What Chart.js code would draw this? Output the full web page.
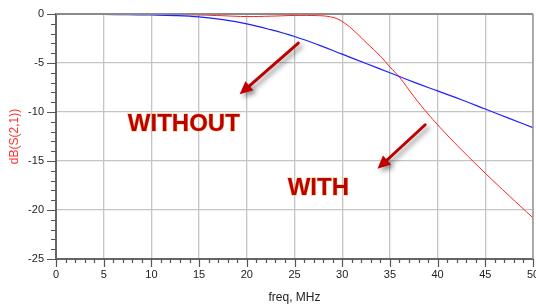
<!DOCTYPE html>
<html>
<head>
<meta charset="utf-8">
<script src="https://cdn.jsdelivr.net/npm/chart.js@4.4.1/dist/chart.umd.min.js"></script>
<style>
  html, body { margin: 0; padding: 0; background: #fff; }
  #wrap { width: 536px; height: 307px; position: relative; }
</style>
</head>
<body>
<div id="wrap"><canvas id="s21Chart"></canvas></div>
<script>
// S21 data (freq in MHz, dB)
const freqWithout = [0, 2.5, 5, 7.5, 10, 12.5, 15, 17.5, 20, 22.5, 25, 27.5, 30, 32.5, 35, 37.5, 40, 42.5, 45, 47.5, 50];
const dbWithout   = [-0.05, -0.05, -0.05, -0.07, -0.1, -0.16, -0.3, -0.58, -1.0, -1.6, -2.3, -3.15, -4.1, -5.05, -6.0, -6.95, -7.85, -8.75, -9.7, -10.65, -11.6];

const freqWith = [0, 5, 10, 15, 17.5, 20, 22.5, 25, 27.5, 28.5, 29.5, 30.5, 31.5, 32.5, 34, 35, 36, 37.5, 39, 40, 41, 42.5, 45, 47.5, 50];
const dbWith   = [-0.05, -0.05, -0.05, -0.1, -0.18, -0.26, -0.22, -0.15, -0.17, -0.25, -0.5, -1.1, -1.95, -2.9, -4.3, -5.4, -6.45, -8.4, -10.2, -11.3, -12.35, -13.85, -16.25, -18.55, -20.8];

// axis ranges
const xMin = 0, xMax = 50;
const yMin = -25, yMax = 0;

// callouts, placed in data units
const labels = [
  { text: 'WITHOUT', x: 13.4, y: -11.9 },
  { text: 'WITH', x: 27.5, y: -18.45 }
];
const arrows = [
  { from: [25.4, -2.96], to: [19.25, -8.2] },
  { from: [38.7, -11.3], to: [33.7, -15.8] }
];

function toPoints(xs, ys) {
  return xs.map((x, i) => ({ x: x, y: ys[i] }));
}

// minor/major tick marks + plot frame
const frameTicks = {
  id: 'frameTicks',
  afterDraw(chart) {
    const ctx = chart.ctx;
    const xs = chart.scales.x, ys = chart.scales.y;
    const a = chart.chartArea;
    ctx.save();
    // top and right frame
    ctx.strokeStyle = '#8a8a8a';
    ctx.lineWidth = 2;
    ctx.beginPath();
    ctx.moveTo(a.left, a.top);
    ctx.lineTo(a.right, a.top);
    ctx.stroke();
    ctx.lineWidth = 1.5;
    ctx.strokeStyle = '#9a9a9a';
    ctx.beginPath();
    ctx.moveTo(a.right, a.top);
    ctx.lineTo(a.right, a.bottom);
    ctx.stroke();

    ctx.strokeStyle = '#555';
    ctx.lineWidth = 1.2;
    ctx.beginPath();
    for (let v = xMin; v <= xMax; v++) {
      const px = Math.round(xs.getPixelForValue(v)) + 0.5;
      const len = v % 5 === 0 ? 8 : 4;
      ctx.moveTo(px, a.bottom);
      ctx.lineTo(px, a.bottom + len);
    }
    for (let v = yMin; v <= yMax; v++) {
      const py = Math.round(ys.getPixelForValue(v)) + 0.5;
      const len = v % 5 === 0 ? 9 : 5;
      ctx.moveTo(a.left, py);
      ctx.lineTo(a.left - len, py);
    }
    ctx.stroke();
    ctx.restore();
  }
};

// arrows and WITH / WITHOUT labels
const callouts = {
  id: 'callouts',
  afterDatasetsDraw(chart) {
    const ctx = chart.ctx;
    const xs = chart.scales.x, ys = chart.scales.y;
    ctx.save();
    arrows.forEach(function(ar) {
      const x1 = xs.getPixelForValue(ar.from[0]), y1 = ys.getPixelForValue(ar.from[1]);
      const x2 = xs.getPixelForValue(ar.to[0]), y2 = ys.getPixelForValue(ar.to[1]);
      const ang = Math.atan2(y2 - y1, x2 - x1);
      const head = 13, hw = 6;
      const bx = x2 - head * Math.cos(ang), by = y2 - head * Math.sin(ang);
      ctx.shadowColor = 'rgba(0,0,0,0.45)';
      ctx.shadowBlur = 5;
      ctx.shadowOffsetX = 3;
      ctx.shadowOffsetY = 3;
      ctx.strokeStyle = '#c00000';
      ctx.fillStyle = '#c00000';
      ctx.lineWidth = 3;
      ctx.lineCap = 'round';
      ctx.beginPath();
      ctx.moveTo(x1, y1);
      ctx.lineTo(bx, by);
      ctx.stroke();
      ctx.beginPath();
      ctx.moveTo(x2, y2);
      ctx.lineTo(bx + hw * Math.sin(ang), by - hw * Math.cos(ang));
      ctx.lineTo(bx - hw * Math.sin(ang), by + hw * Math.cos(ang));
      ctx.closePath();
      ctx.fill();
    });
    ctx.shadowColor = 'transparent';
    ctx.font = 'bold 24px "Liberation Sans", Arial, sans-serif';
    ctx.textAlign = 'center';
    ctx.textBaseline = 'alphabetic';
    labels.forEach(function(lb) {
      const px = xs.getPixelForValue(lb.x), py = ys.getPixelForValue(lb.y);
      ctx.lineWidth = 1;
      ctx.strokeStyle = 'rgba(240,150,0,0.55)';
      ctx.strokeText(lb.text, px, py);
      ctx.fillStyle = '#c00000';
      ctx.fillText(lb.text, px, py);
    });
    ctx.restore();
  }
};

document.addEventListener('DOMContentLoaded', function() {
  const ctx = document.getElementById('s21Chart').getContext('2d');
  new Chart(ctx, {
    type: 'line',
    data: {
      datasets: [
        {
          label: 'without',
          data: toPoints(freqWithout, dbWithout),
          borderColor: '#1f1fff',
          borderWidth: 1.2,
          pointRadius: 0,
          tension: 0.4,
          fill: false
        },
        {
          label: 'with',
          data: toPoints(freqWith, dbWith),
          borderColor: '#ff2020',
          borderWidth: 1,
          pointRadius: 0,
          tension: 0.4,
          fill: false
        }
      ]
    },
    options: {
      responsive: true,
      maintainAspectRatio: false,
      animation: false,
      layout: { padding: { top: 14, right: 3, left: 0, bottom: 0 } },
      plugins: {
        legend: { display: false },
        tooltip: { enabled: false }
      },
      scales: {
        x: {
          type: 'linear',
          min: xMin,
          max: xMax,
          afterFit: function(s) { s.height = 48; s.paddingLeft = 0; s.paddingRight = 0; },
          border: { color: '#666', width: 2 },
          grid: {
            drawTicks: false,
            color: function(c) {
              const v = c.tick.value;
              if (v === xMin) return 'transparent';
              return v % 5 === 0 ? '#c4c4c4' : 'transparent';
            },
            lineWidth: 1.3
          },
          ticks: {
            stepSize: 1,
            autoSkip: false,
            maxRotation: 0,
            padding: 9,
            color: '#222',
            font: { family: '"Liberation Sans", Arial, sans-serif', size: 11 },
            callback: function(v) { return v % 5 === 0 ? String(v) : ''; }
          },
          title: {
            display: true,
            text: 'freq, MHz',
            color: '#222',
            font: { family: '"Liberation Sans", Arial, sans-serif', size: 12 },
            padding: { top: 0, bottom: 2 }
          }
        },
        y: {
          type: 'linear',
          min: yMin,
          max: yMax,
          afterFit: function(s) { s.width = 56; s.paddingTop = 0; s.paddingBottom = 0; },
          border: { color: '#666', width: 2 },
          grid: {
            drawTicks: false,
            color: function(c) {
              const v = c.tick.value;
              if (v === yMin || v === yMax) return 'transparent';
              return v % 5 === 0 ? '#c4c4c4' : 'transparent';
            },
            lineWidth: 1.3
          },
          ticks: {
            stepSize: 1,
            autoSkip: false,
            padding: 12,
            color: '#222',
            font: { family: '"Liberation Sans", Arial, sans-serif', size: 11 },
            callback: function(v) { return v % 5 === 0 ? String(v) : ''; }
          },
          title: {
            display: true,
            text: 'dB(S(2,1))',
            color: '#ff3030',
            font: { family: '"Liberation Sans", Arial, sans-serif', size: 12 },
            padding: { top: 7, bottom: 0 }
          }
        }
      }
    },
    plugins: [frameTicks, callouts]
  });
});
</script>
</body>
</html>
